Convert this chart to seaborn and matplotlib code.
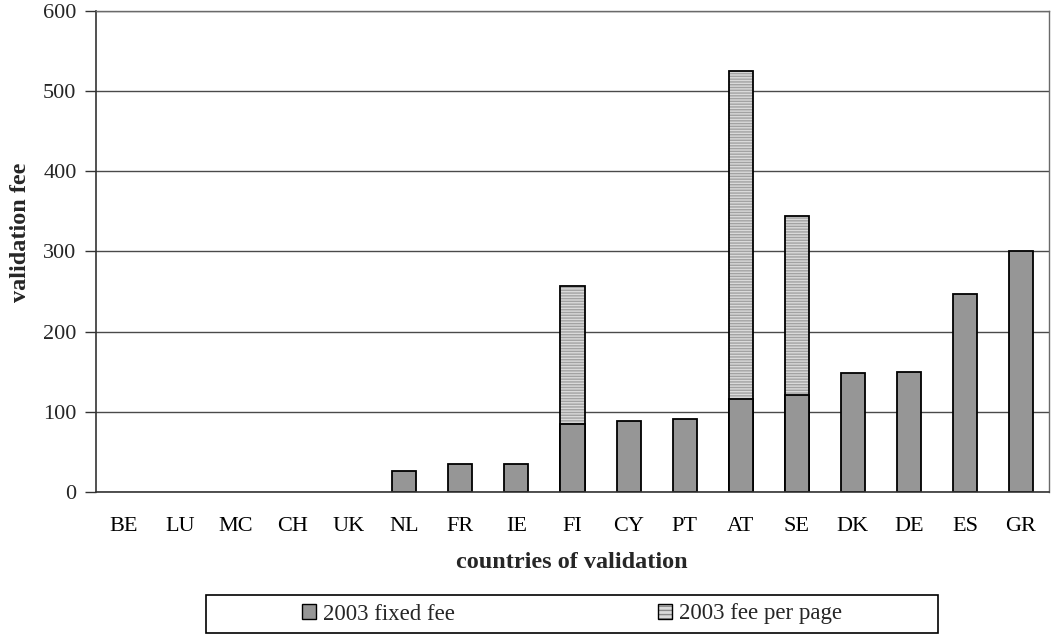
import matplotlib
matplotlib.use("Agg")
import matplotlib.pyplot as plt
import seaborn as sns
import pandas as pd
from matplotlib.patches import Patch, Rectangle
from matplotlib.legend_handler import HandlerTuple

# valores
countries = ["BE", "LU", "MC", "CH", "UK", "NL", "FR", "IE", "FI", "CY",
             "PT", "AT", "SE", "DK", "DE", "ES", "GR"]
fixed_fee = [0, 0, 0, 0, 0, 26, 35, 35, 85, 89, 91, 116, 121, 149, 150, 247, 300]
fee_per_page = [0, 0, 0, 0, 0, 0, 0, 0, 172, 0, 0, 409, 223, 0, 0, 0, 0]
y_ticks = [0, 100, 200, 300, 400, 500, 600]

df = pd.DataFrame({"country": countries, "fixed": fixed_fee, "page": fee_per_page})
df["total"] = df["fixed"] + df["page"]

sns.set_style("white")
plt.rcParams["font.family"] = ["Liberation Serif", "DejaVu Serif"]
plt.rcParams["hatch.linewidth"] = 1.0

fig = plt.figure(figsize=(10.51, 6.34), dpi=100)
ax = fig.add_axes([96 / 1051, 1 - 492 / 634, 953 / 1051, 481 / 634])

fixed_color = "#969696"
page_color = "#dadada"
bar_w = 0.43

# fee per page: barra total rayada, luego el contorno
sns.barplot(data=df, x="country", y="total", color=page_color, width=bar_w,
            saturation=1, hatch="------", edgecolor="#a2a2a2", linewidth=0, ax=ax)
sns.barplot(data=df[df["page"] > 0], x="country", y="total", order=countries,
            fill=False, color="black", width=bar_w, linewidth=1.3, ax=ax)
# fixed fee encima
sns.barplot(data=df[df["fixed"] > 0], x="country", y="fixed", order=countries,
            color=fixed_color, width=bar_w, saturation=1, edgecolor="black",
            linewidth=1.3, ax=ax)

ax.set_xlim(-0.5, len(countries) - 0.5)
ax.set_ylim(0, 600)
ax.set_yticks(y_ticks)
ax.set_axisbelow(True)
ax.grid(axis="y", color="#4a4a4a", linewidth=1.0)
ax.grid(axis="x", visible=False)

ax.set_xticks(range(len(countries)))
ax.set_xticklabels(countries)
ax.set_xticks([i - 0.5 for i in range(len(countries) + 1)], minor=True)
ax.tick_params(axis="x", which="major", length=0, pad=18, labelsize=16, colors="black")
ax.tick_params(axis="x", which="minor", length=6, width=1, color="#333333", direction="out")
ax.tick_params(axis="y", length=8, width=1, color="#333333", direction="out",
               labelsize=16, pad=6, left=True)
ax.set_xlabel("")
ax.set_ylabel("")

for side in ["left", "bottom"]:
    ax.spines[side].set_color("#333333")
    ax.spines[side].set_linewidth(1.2)
for side in ["right", "top"]:
    ax.spines[side].set_color("#6a6a6a")
    ax.spines[side].set_linewidth(1.0)

fig.text(572 / 1051, 1 - 563 / 634, "countries of validation", ha="center", va="center",
         fontsize=17.5, fontweight="bold")
fig.text(21 / 1051, 1 - 232 / 634, "validation fee", ha="center", va="center",
         rotation=90, fontsize=17.5, fontweight="bold")

# leyenda
fig.patches.append(Rectangle((206 / 1051, 1 - 633 / 634), 732 / 1051, 38 / 634,
                             transform=fig.transFigure, facecolor="white",
                             edgecolor="black", linewidth=1.2))
h_fixed = Patch(facecolor=fixed_color, edgecolor="black", linewidth=1.0)
h_page = (Patch(facecolor=page_color, edgecolor="#8a8a8a", hatch="----", linewidth=0),
          Patch(facecolor="none", edgecolor="black", linewidth=1.0))
fig.legend([h_fixed, h_page], ["2003 fixed fee", "2003 fee per page"],
           handler_map={tuple: HandlerTuple(ndivide=1, pad=0)},
           loc="center", bbox_to_anchor=(572 / 1051, 1 - 614 / 634), ncol=2,
           frameon=False, fontsize=16.5, handlelength=0.6, handleheight=0.6,
           handletextpad=0.3, columnspacing=8.9)

fig.savefig("out.png", dpi=100)
